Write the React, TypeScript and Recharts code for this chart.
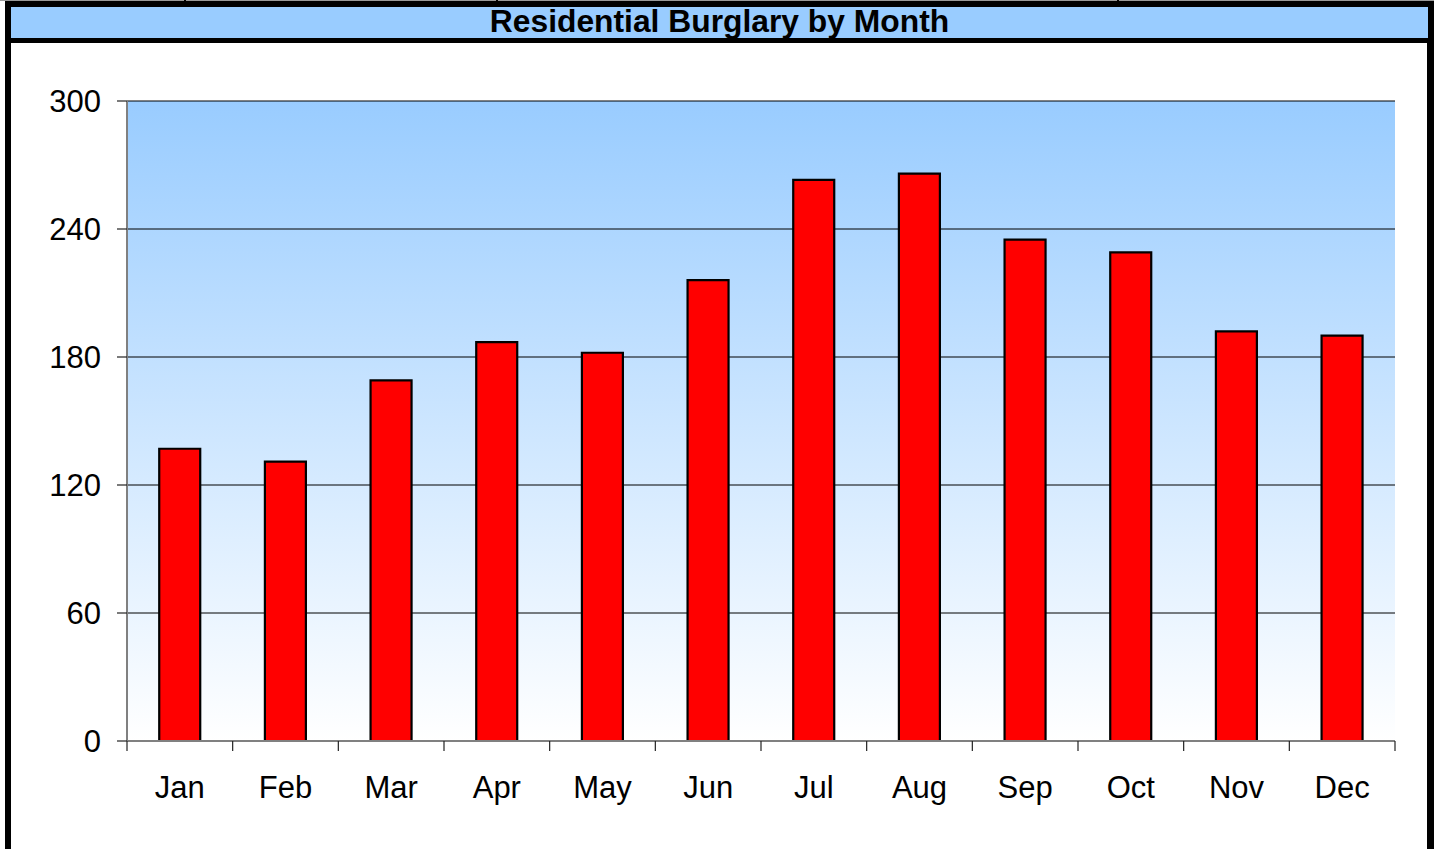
import React from 'react';
import { BarChart, Bar, XAxis, YAxis, CartesianGrid } from 'recharts';

const months = ['Jan', 'Feb', 'Mar', 'Apr', 'May', 'Jun', 'Jul', 'Aug', 'Sep', 'Oct', 'Nov', 'Dec'];
const burglaries = [137, 131, 169, 187, 182, 216, 263, 266, 235, 229, 192, 190];
const yTicks = [0, 60, 120, 180, 240, 300];
const title = 'Residential Burglary by Month';

const data = months.map((m, i) => ({ month: m, value: burglaries[i] }));

const FONT = '"Liberation Sans", Arial, Helvetica, sans-serif';
const X_TICK_SIZE = 10;
const X_TICK_MARGIN = 25;

const MonthTick = (props: any) => {
  const { x, y, payload, index, visibleTicksCount } = props;
  const off = payload && payload.offset ? payload.offset : 0;
  const lineTop = y - X_TICK_MARGIN - X_TICK_SIZE;
  const lineBottom = lineTop + X_TICK_SIZE;
  return (
    <g>
      <line x1={x - off} x2={x - off} y1={lineTop} y2={lineBottom} stroke="#222" strokeWidth={1.2} />
      {index === visibleTicksCount - 1 ? (
        <line x1={x + off} x2={x + off} y1={lineTop} y2={lineBottom} stroke="#222" strokeWidth={1.2} />
      ) : null}
      <text x={x} y={y} dy="0.71em" textAnchor="middle" fill="#000" fontSize={31} fontFamily={FONT}>
        {payload.value}
      </text>
    </g>
  );
};

export default function App() {
  return (
    <div style={{ position: 'absolute', left: 0, top: 0, width: 1434, height: 849, overflow: 'hidden', background: '#fff' }}>
      {/* top table line */}
      <div style={{ position: 'absolute', left: 0, top: 0, width: 1434, height: 1, background: '#999' }} />
      <div style={{ position: 'absolute', left: 184, top: 0, width: 2, height: 2, background: '#000' }} />
      <div style={{ position: 'absolute', left: 496, top: 0, width: 2, height: 2, background: '#000' }} />
      <div style={{ position: 'absolute', left: 1117, top: 0, width: 2, height: 2, background: '#000' }} />
      {/* black frame */}
      <div style={{ position: 'absolute', left: 5, top: 1, width: 1429, height: 900, background: '#000' }} />
      {/* title band */}
      <div style={{ position: 'absolute', left: 11, top: 7, width: 1417, height: 31, background: '#99CCFF' }} />
      {/* white body */}
      <div style={{ position: 'absolute', left: 11, top: 43, width: 1416, height: 900, background: '#fff' }} />
      <div
        style={{
          position: 'absolute',
          left: 11,
          top: 6,
          width: 1417,
          height: 31,
          lineHeight: '31px',
          fontSize: 31.8,
          fontWeight: 'bold',
          fontFamily: FONT,
          textAlign: 'center',
          color: '#000',
          whiteSpace: 'nowrap',
        }}
      >
        {title}
      </div>
      <div style={{ position: 'absolute', left: 0, top: 0 }}>
        <BarChart
          width={1434}
          height={849}
          data={data}
          margin={{ top: 101, right: 39, bottom: 48, left: 0 }}
          barCategoryGap="30.5%"
        >
          <defs>
            <linearGradient id="plotBg" x1="0" y1="0" x2="0" y2="1">
              <stop offset="0%" stopColor="#99CCFF" />
              <stop offset="100%" stopColor="#FFFFFF" />
            </linearGradient>
          </defs>
          <CartesianGrid
            vertical={false}
            horizontal={{ shapeRendering: 'crispEdges' } as any}
            stroke="#000"
            strokeWidth={1}
            fill="url(#plotBg)"
            fillOpacity={1}
          />
          <XAxis
            dataKey="month"
            height={60}
            interval={0}
            tickLine={false}
            tickSize={X_TICK_SIZE}
            tickMargin={X_TICK_MARGIN}
            axisLine={{ stroke: '#808080', strokeWidth: 2 }}
            tick={<MonthTick />}
          />
          <XAxis
            xAxisId="top"
            orientation="top"
            dataKey="month"
            height={0}
            tick={false}
            tickLine={false}
            axisLine={{ stroke: '#808080', strokeWidth: 2 }}
          />
          <YAxis
            domain={[0, 300]}
            ticks={yTicks}
            interval={0}
            width={127}
            tickSize={10}
            tickMargin={16}
            tickLine={{ stroke: '#222', strokeWidth: 1.2 }}
            axisLine={{ stroke: '#808080', strokeWidth: 2 }}
            tick={{ fill: '#000', fontSize: 31, fontFamily: FONT }}
          />
          <YAxis
            yAxisId="right"
            orientation="right"
            domain={[0, 300]}
            width={0}
            tick={false}
            tickLine={false}
            axisLine={{ stroke: '#808080', strokeWidth: 2 }}
          />
          <Bar dataKey="value" fill="#FF0000" stroke="#000" strokeWidth={2.2} isAnimationActive={false} />
        </BarChart>
      </div>
    </div>
  );
}
